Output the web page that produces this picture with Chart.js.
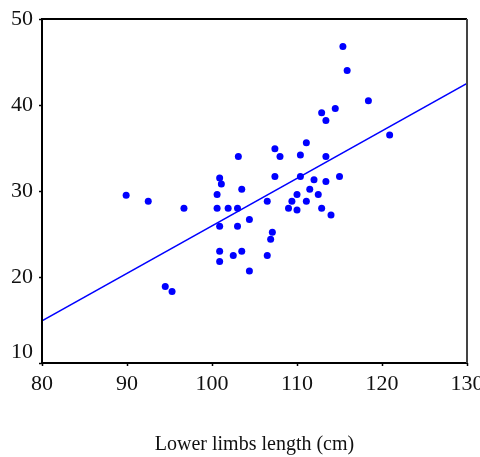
<!DOCTYPE html>
<html>
<head>
<meta charset="utf-8">
<script src="https://cdn.jsdelivr.net/npm/chart.js@4.4.1/dist/chart.umd.min.js"></script>
<style>
  html, body { margin: 0; padding: 0; background: #fff; }
  #wrap { width: 480px; height: 457px; }
</style>
</head>
<body>
<div id="wrap"><canvas id="Chart"></canvas></div>
<script>
// lower limbs length (cm) and the measured value for each subject
const limbLength = [
  89.9, 92.5, 96.7, 94.5, 95.3, 103.1, 100.9, 101.1, 100.6, 103.5,
  100.6, 101.9, 103.0, 100.9, 103.0, 104.4, 100.9, 103.5, 102.5, 100.9,
  104.4, 107.4, 111.1, 108.0, 110.4, 113.4, 107.4, 110.4, 112.0, 113.4,
  115.0, 111.5, 110.0, 112.5, 109.4, 111.1, 106.5, 109.0, 110.0, 112.9,
  114.0, 107.1, 106.9, 106.5, 115.4, 115.9, 118.4, 114.5, 112.9, 113.4,
  120.9
];
const measure = [
  29.5, 28.8, 28.0, 18.9, 18.3, 34.0, 31.5, 30.8, 29.6, 30.2,
  28.0, 28.0, 28.0, 25.9, 25.9, 26.7, 23.0, 23.0, 22.5, 21.8,
  20.7, 34.9, 35.6, 34.0, 34.2, 34.0, 31.7, 31.7, 31.3, 31.1,
  31.7, 30.2, 29.6, 29.6, 28.8, 28.8, 28.8, 28.0, 27.8, 28.0,
  27.2, 25.2, 24.4, 22.5, 46.8, 44.0, 40.5, 39.6, 39.1, 38.2,
  36.5
];
// fitted regression line end points
const fitX = [80, 130];
const fitY = [14.9, 42.5];

const xTicks = [80, 90, 100, 110, 120, 130];
const yTicks = [10, 20, 30, 40, 50];
const xTitle = "Lower limbs length (cm)";

const ctx = document.getElementById("Chart");

// frame, tick labels and axis title in serif like the original
const labelPlugin = {
  id: "labelPlugin",
  afterDraw(chart) {
    const c = chart.ctx;
    const a = chart.chartArea;
    const xs = chart.scales.x;
    const ys = chart.scales.y;
    c.save();
    c.lineWidth = 2;
    c.strokeStyle = "#000";
    c.beginPath();
    c.moveTo(a.left, a.bottom);
    c.lineTo(a.left, a.top);
    c.lineTo(a.right, a.top);
    c.moveTo(a.left, a.bottom);
    c.lineTo(a.right, a.bottom);
    c.stroke();
    c.strokeStyle = "#444";
    c.beginPath();
    c.moveTo(a.right, a.top);
    c.lineTo(a.right, a.bottom);
    c.stroke();

    c.fillStyle = "#111";
    c.font = "22px 'Liberation Serif'";
    c.textAlign = "right";
    c.textBaseline = "middle";
    yTicks.forEach((v, i) => {
      let py = ys.getPixelForValue(v);
      if (i === 0) py -= 11; // lowest label sits above the corner
      c.fillText(String(v), a.left - 9, py);
    });
    c.textAlign = "center";
    xTicks.forEach((v) => {
      c.fillText(String(v), xs.getPixelForValue(v), a.bottom + 21);
    });

    c.font = "20px 'Liberation Serif'";
    c.textBaseline = "alphabetic";
    c.fillText(xTitle, (a.left + a.right) / 2, 450);
    c.restore();
  },
};

const chart = new Chart(ctx, {
  type: "scatter",
  data: {
    datasets: [
      {
        data: limbLength.map((v, i) => ({ x: v, y: measure[i] })),
        backgroundColor: "#0000ff",
        borderWidth: 0,
        pointRadius: 3.5,
      },
      {
        type: "line",
        data: fitX.map((v, i) => ({ x: v, y: fitY[i] })),
        borderColor: "#0000ff",
        borderWidth: 1.5,
        pointRadius: 0,
        fill: false,
      },
    ],
  },
  options: {
    responsive: true,
    maintainAspectRatio: false,
    animation: false,
    layout: {
      padding: { left: 39, top: 19, right: 13, bottom: 91 },
    },
    plugins: {
      legend: { display: false },
      tooltip: { enabled: false },
    },
    scales: {
      x: {
        type: "linear",
        min: 80,
        max: 130,
        ticks: { stepSize: 10, display: false },
        grid: { drawOnChartArea: false, tickLength: 3, tickColor: "#000", tickWidth: 1.5 },
        border: { display: false },
      },
      y: {
        type: "linear",
        min: 10,
        max: 50,
        ticks: { stepSize: 10, display: false },
        grid: { drawOnChartArea: false, tickLength: 3, tickColor: "#000", tickWidth: 1.5 },
        border: { display: false },
      },
    },
  },
  plugins: [labelPlugin],
});
</script>
</body>
</html>
